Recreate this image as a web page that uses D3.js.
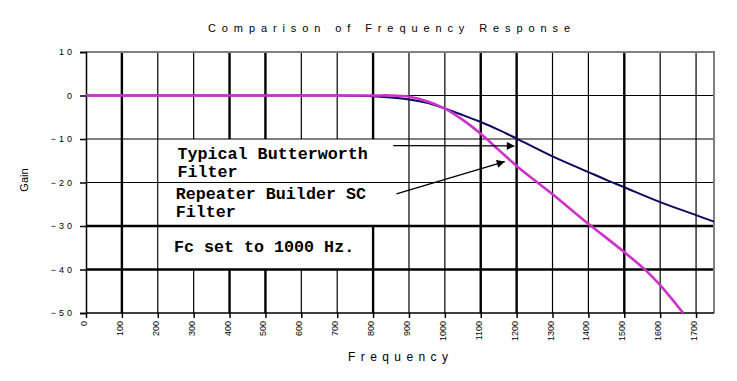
<!DOCTYPE html>
<html>
<head>
<meta charset="utf-8">
<script src="https://cdn.jsdelivr.net/npm/d3@7"></script>
<style>
    body { margin: 0; background: #fff; }
    svg { display: block; font-family: "Liberation Sans", Arial, sans-serif; }
    .grid-line { stroke: #000; }
</style>
</head>
<body>
<svg></svg>
<script>
let width = 737;
let height = 381;
let marginLeft = 86;
let marginRight = 23;
let marginTop = 52;
let marginBottom = 68;

// frequency ticks and gain ticks
let freqTicks = [0, 100, 200, 300, 400, 500, 600, 700, 800, 900, 1000, 1100, 1200, 1300, 1400, 1500, 1600, 1700];
let gainTicks = [10, 0, -10, -20, -30, -40, -50];
let thickFreq = [100, 400, 500, 800, 1100, 1200, 1500];
let thickGain = [-30, -40];

// Typical Butterworth filter
let bwFreq = [0, 100, 200, 300, 400, 500, 600, 700, 800, 900, 950, 1000, 1050, 1100, 1150, 1200, 1300, 1400, 1450, 1500, 1600, 1700, 1750];
let bwGain = [0, 0, 0, 0, 0, 0, 0, 0, -0.2, -0.9, -1.7, -3.0, -4.5, -6.1, -7.9, -9.9, -14.0, -17.6, -19.4, -21.1, -24.5, -27.5, -29.0];

// Repeater Builder SC filter
let scFreq = [0, 100, 200, 300, 400, 500, 600, 700, 800, 850, 900, 950, 1000, 1050, 1100, 1150, 1200, 1250, 1300, 1400, 1500, 1560, 1600, 1664];
let scGain = [0, 0, 0, 0, 0, 0, 0, 0, 0, 0, -0.3, -1.3, -3.0, -5.6, -8.8, -12.5, -16.2, -19.5, -22.7, -29.5, -36.0, -40.2, -43.6, -50.0];

// annotation text (freq / gain of baseline start)
let noteText = ["Typical Butterworth", "Filter", "Repeater Builder SC", "Filter", "Fc set to 1000 Hz."];
let noteFreq = [255, 255, 250, 250, 245];
let noteGain = [-14.6, -18.7, -23.9, -28.0, -35.9];

// white boxes behind the notes: [freq0, freq1, gainTop, gainBottom]
let boxes = [[200, 850, -10, -20], [200, 850, -20, -30], [200, 795, -30, -40]];

// arrows: [freqFrom, gainFrom, freqTo, gainTo]
let arrows = [[856, -11.5, 1195, -11.6], [865, -22.6, 1167, -15.2]];

let svg = d3.select("svg")
    .attr("width", width)
    .attr("height", height);

let scaleX = d3.scaleLinear()
    .domain([0, 1750])
    .range([marginLeft, width - marginRight]);

let scaleY = d3.scaleLinear()
    .domain([-50, 10])
    .range([height - marginBottom, marginTop]);

let x0 = scaleX(0), x1 = scaleX(1750);
let yTop = scaleY(10), yBot = scaleY(-50);

// vertical grid
svg.append("g")
    .selectAll("line")
    .data(freqTicks.filter(d => d > 0))
    .enter()
    .append("line")
    .classed("grid-line", true)
    .attr("x1", d => scaleX(d))
    .attr("x2", d => scaleX(d))
    .attr("y1", yTop)
    .attr("y2", yBot)
    .attr("stroke-width", d => thickFreq.includes(d) ? 2.4 : 1.2);

// white text boxes hide vertical grid
svg.append("g")
    .selectAll("rect")
    .data(boxes)
    .enter()
    .append("rect")
    .attr("x", d => scaleX(d[0]) + 1)
    .attr("y", d => scaleY(d[2]))
    .attr("width", d => scaleX(d[1]) - scaleX(d[0]) - 1)
    .attr("height", d => scaleY(d[3]) - scaleY(d[2]))
    .attr("fill", "#fff");

// horizontal grid
svg.append("g")
    .selectAll("line")
    .data(gainTicks.filter(d => d < 10 && d > -50))
    .enter()
    .append("line")
    .classed("grid-line", true)
    .attr("x1", x0)
    .attr("x2", x1)
    .attr("y1", d => scaleY(d))
    .attr("y2", d => scaleY(d))
    .attr("stroke-width", d => thickGain.includes(d) ? 2.4 : 1.2);

// frame: gray top/right, black axes
svg.append("path")
    .attr("d", `M${x0},${yTop}H${x1}V${yBot}`)
    .attr("fill", "none")
    .attr("stroke", "#808080")
    .attr("stroke-width", 2);

let axisY = d3.axisLeft(scaleY).tickValues(gainTicks).tickSize(6).tickFormat(d3.format("d"));
let gy = svg.append("g")
    .attr("transform", `translate(${x0},0)`)
    .call(axisY);
gy.select(".domain").attr("stroke", "#000").attr("stroke-width", 1.5);
gy.selectAll(".tick line").attr("stroke-width", 1.5);
gy.selectAll("text")
    .attr("x", -11)
    .style("font-size", "9px")
    .style("letter-spacing", "3px")
    .style("font-family", "Liberation Sans, Arial, sans-serif")
    .attr("fill", "#000");

let axisX = d3.axisBottom(scaleX).tickValues(freqTicks).tickSize(5).tickFormat(d3.format("d"));
let gx = svg.append("g")
    .attr("transform", `translate(0,${yBot})`)
    .call(axisX);
gx.select(".domain").attr("stroke", "#000").attr("stroke-width", 1.5).attr("d", `M${x0},0H${x1}`);
gx.selectAll(".tick line").attr("stroke-width", 1.5);
gx.selectAll("text")
    .style("text-anchor", "end")
    .style("font-size", "9px")
    .style("font-family", "Liberation Sans, Arial, sans-serif")
    .attr("fill", "#000")
    .attr("x", 0)
    .attr("y", 0)
    .attr("dy", 0)
    .attr("transform", "translate(0.5,8) rotate(-90)");

// curves
let line = d3.line()
    .x(d => scaleX(d[0]))
    .y(d => scaleY(d[1]))
    .curve(d3.curveCatmullRom);

svg.append("path")
    .datum(bwFreq.map((f, i) => [f, bwGain[i]]))
    .attr("d", line)
    .attr("fill", "none")
    .attr("stroke", "#0a0a5e")
    .attr("stroke-width", 2);

svg.append("path")
    .datum(scFreq.map((f, i) => [f, scGain[i]]))
    .attr("d", line)
    .attr("fill", "none")
    .attr("stroke", "#cc33cc")
    .attr("stroke-width", 2.6);

// notes
svg.append("g")
    .selectAll("text")
    .data(noteText)
    .enter()
    .append("text")
    .attr("x", (d, i) => scaleX(noteFreq[i]))
    .attr("y", (d, i) => scaleY(noteGain[i]))
    .style("font-family", "Liberation Mono, Courier New, monospace")
    .style("font-weight", "bold")
    .style("font-size", "16.7px")
    .text(d => d);

// arrows
svg.append("defs")
    .append("marker")
    .attr("id", "head")
    .attr("viewBox", "0 0 10 10")
    .attr("refX", 10)
    .attr("refY", 5)
    .attr("markerWidth", 14)
    .attr("markerHeight", 8)
    .attr("markerUnits", "userSpaceOnUse")
    .attr("orient", "auto")
    .append("path")
    .attr("d", "M0,0L10,5L0,10Z")
    .attr("fill", "#000");

svg.append("g")
    .selectAll("line")
    .data(arrows)
    .enter()
    .append("line")
    .attr("x1", d => scaleX(d[0]))
    .attr("y1", d => scaleY(d[1]))
    .attr("x2", d => scaleX(d[2]))
    .attr("y2", d => scaleY(d[3]))
    .attr("stroke", "#000")
    .attr("stroke-width", 1.3)
    .attr("marker-end", "url(#head)");

// titles
svg.append("text")
    .attr("x", 208)
    .attr("y", 32)
    .attr("textLength", 362)
    .attr("lengthAdjust", "spacing")
    .style("font-size", "11px")
    .text("Comparison of Frequency Response");

svg.append("text")
    .attr("x", 348)
    .attr("y", 361)
    .attr("textLength", 100)
    .attr("lengthAdjust", "spacing")
    .style("font-size", "12px")
    .text("Frequency");

svg.append("text")
    .attr("transform", "translate(28,180) rotate(-90)")
    .attr("text-anchor", "middle")
    .style("font-size", "11px")
    .text("Gain");
</script>
</body>
</html>
